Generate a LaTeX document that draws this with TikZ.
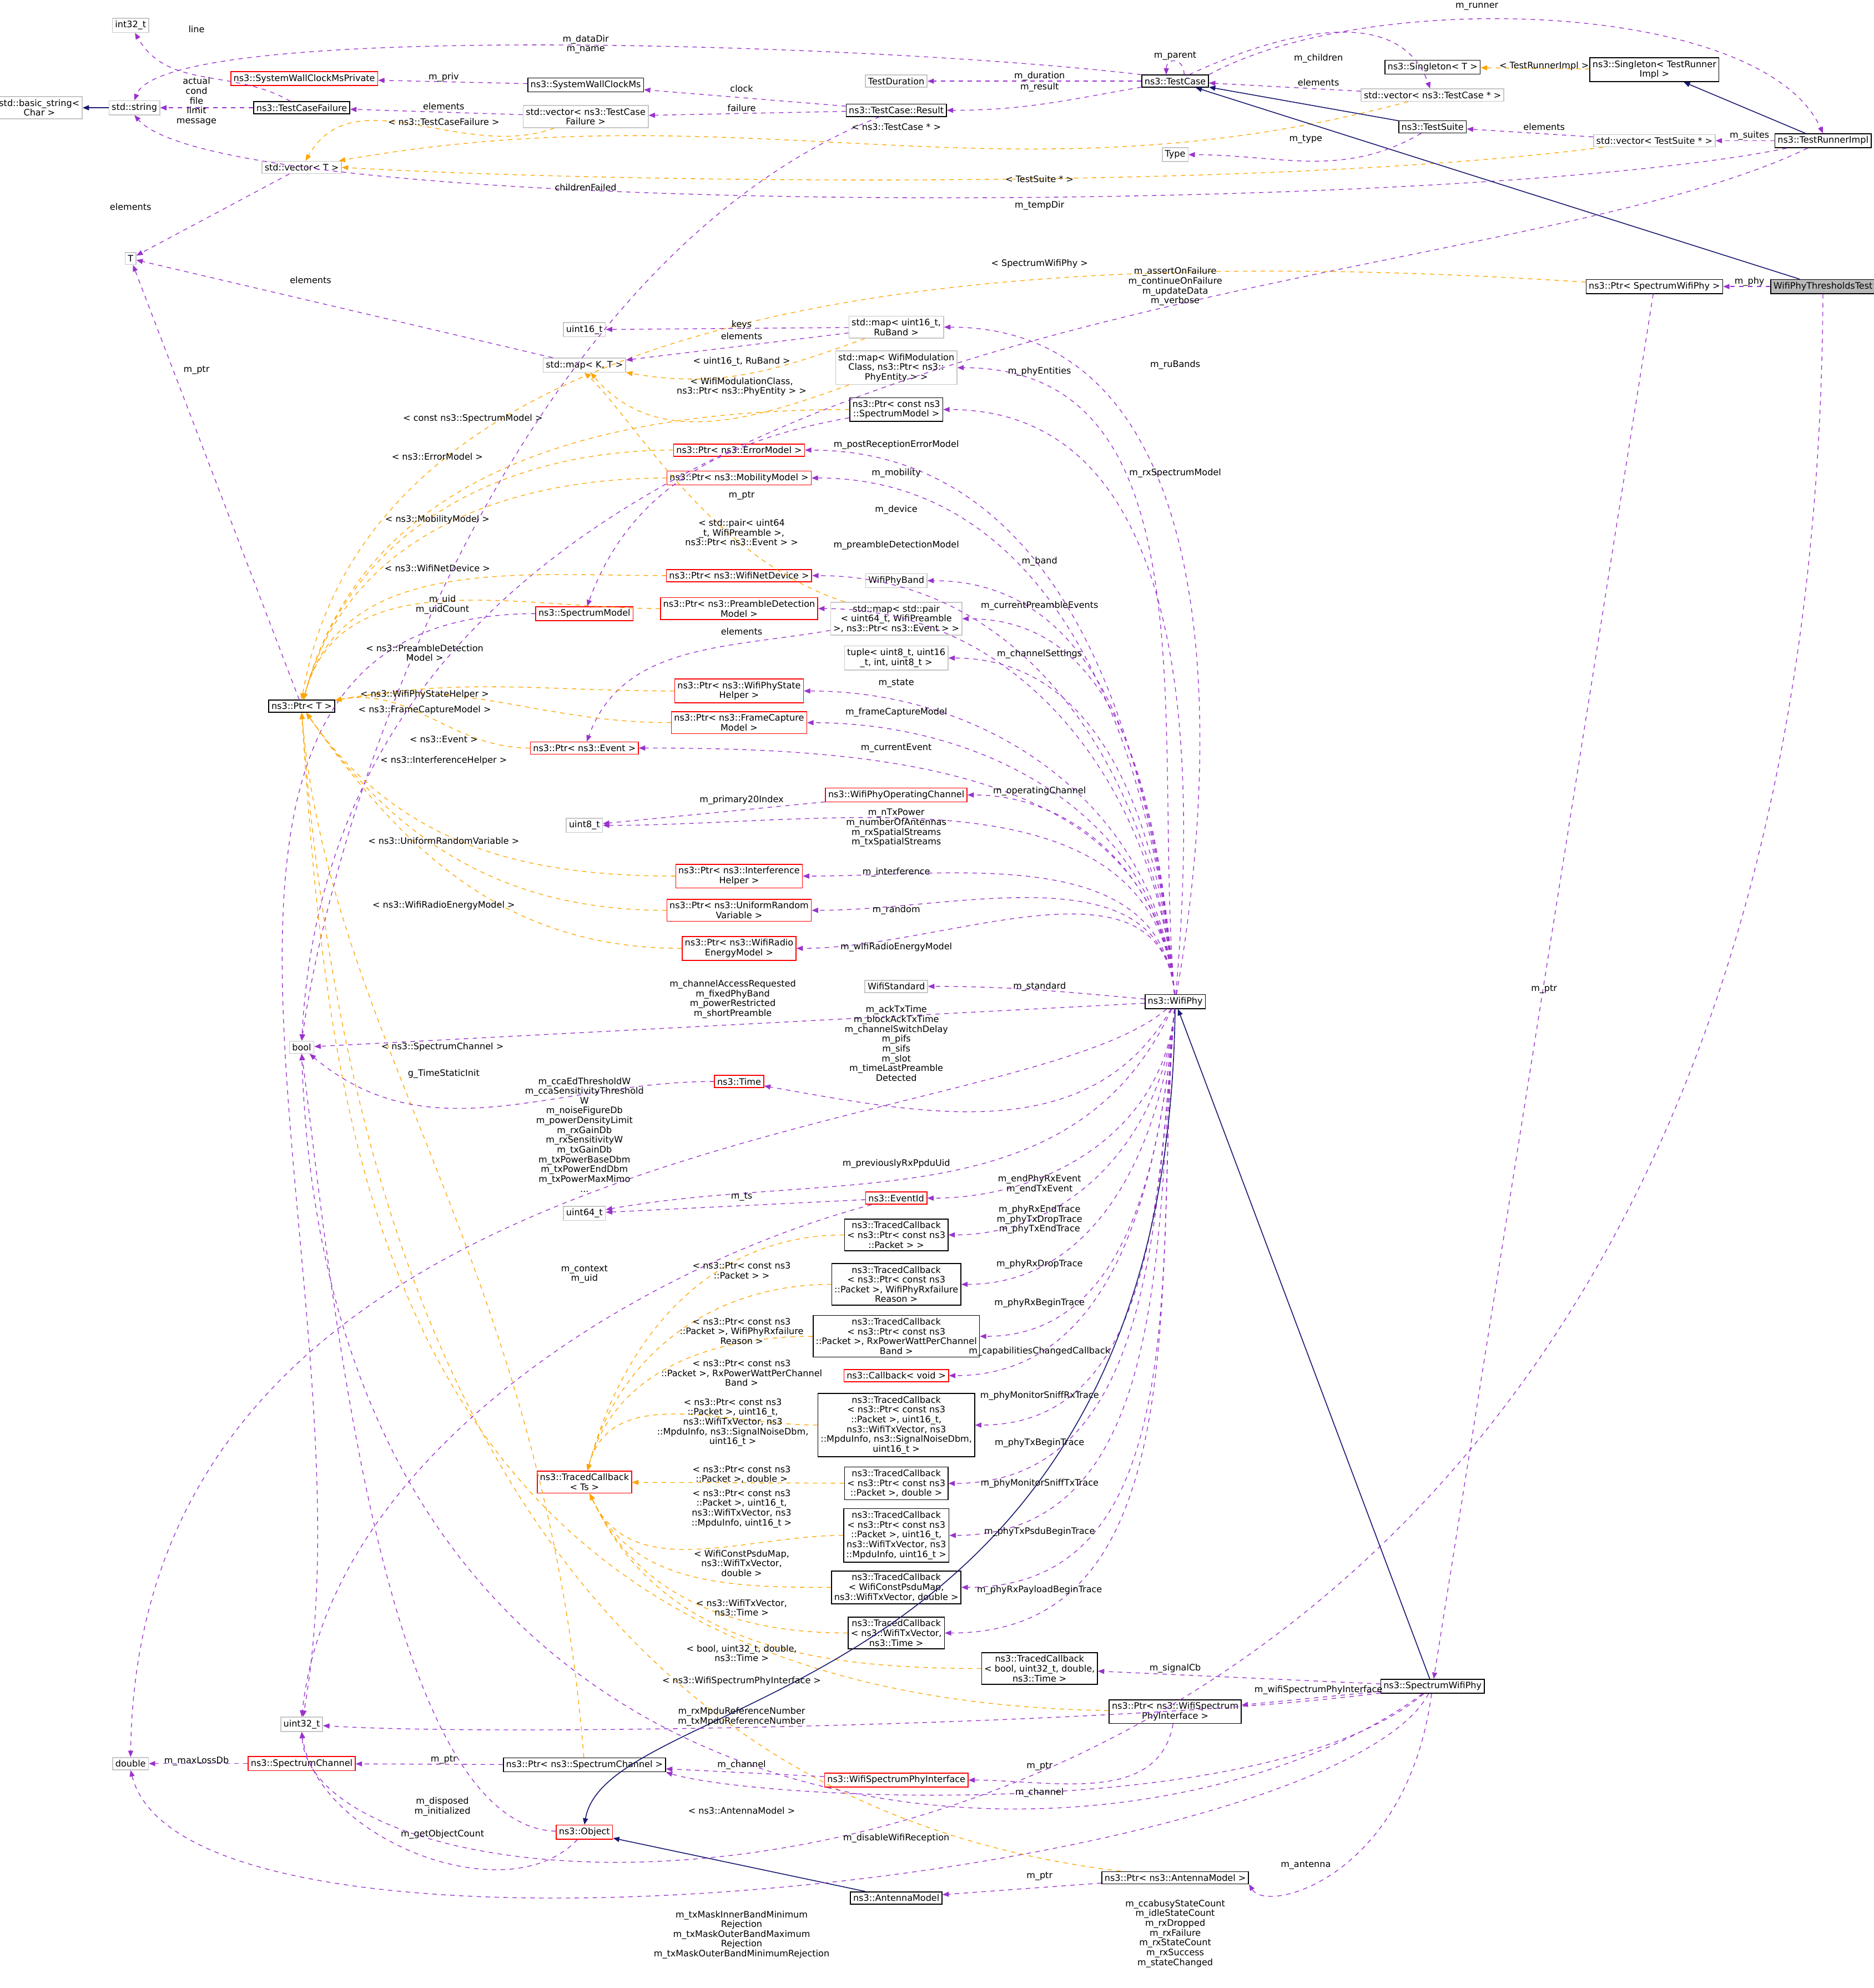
\documentclass[tikz,border=0pt]{standalone}
\usepackage{fontspec}
\setmainfont{DejaVu Sans}
\usetikzlibrary{arrows.meta,positioning}
\definecolor{refcol}{HTML}{9A32CD}
\definecolor{tplcol}{HTML}{FFA500}
\definecolor{inhcol}{HTML}{191970}
\tikzset{cls/.style={draw, rectangle, inner sep=1.8pt, align=center, fill=white, line width=0.6pt, font=\fontsize{6}{6.6}\selectfont}}
\tikzstyle{ext}=[cls, draw=gray!45]
\tikzstyle{undoc}=[cls, draw=red]
\tikzstyle{root}=[cls, fill=gray!55]
\tikzstyle{lbl}=[align=center, inner sep=0.5pt, font=\fontsize{6}{6.6}\selectfont]

\begin{document}
\begin{tikzpicture}[x=0.03cm, y=-0.03cm, >={Triangle[length=1.5mm,width=1.2mm]},
  member/.style={->, refcol, dashed, line width=0.5pt},
  tpl/.style={->, tplcol, dashed, line width=0.5pt},
  inherit/.style={->, inhcol, line width=0.6pt}]
\useasboundingbox (0,0) rectangle (1478,1568);
% classes, top
\node[ext] (int32) at (103,20) {int32\_t};
\node[ext] (bstr) at (31,85) {std::basic\_string<\\Char >};
\node[ext] (str) at (106,85) {std::string};
\node[undoc] (swcp) at (240,62) {ns3::SystemWallClockMsPrivate};
\node[cls] (tcf) at (238,85) {ns3::TestCaseFailure};
\node[cls] (swc) at (462,67) {ns3::SystemWallClockMs};
\node[ext] (vtcf) at (462,92) {std::vector< ns3::TestCase\\Failure >};
\node[ext] (vt) at (238,132) {std::vector< T >};
\node[ext] (T) at (103,204) {T};
\node[ext] (tdur) at (707,64) {TestDuration};
\node[cls] (res) at (707,87) {ns3::TestCase::Result};
\node[cls] (tc) at (927,64) {ns3::TestCase};
\node[ext] (vtc) at (1130,75) {std::vector< ns3::TestCase * >};
\node[cls] (sgt) at (1130,53) {ns3::Singleton< T >};
\node[cls] (sgtri) at (1305,55) {ns3::Singleton< TestRunner\\Impl >};
\node[cls] (ts) at (1130,100) {ns3::TestSuite};
\node[ext] (type) at (927,122) {Type};
\node[ext] (vts) at (1305,111) {std::vector< TestSuite * >};
\node[cls] (tri) at (1438,111) {ns3::TestRunnerImpl};
\node[cls] (pswp) at (1305,226) {ns3::Ptr< SpectrumWifiPhy >};
\node[root] (wptt) at (1438,226) {WifiPhyThresholdsTest};
% classes, middle
\node[ext] (u16) at (461,260) {uint16\_t};
\node[ext] (mapkt) at (461,288) {std::map< K, T >};
\node[ext] (mapru) at (707,258) {std::map< uint16\_t,\\RuBand >};
\node[ext] (mapwmc) at (707,290) {std::map< WifiModulation\\Class, ns3::Ptr< ns3::\\PhyEntity > >};
\node[cls] (pcsm) at (707,323) {ns3::Ptr< const ns3\\::SpectrumModel >};
\node[undoc] (perr) at (583,355) {ns3::Ptr< ns3::ErrorModel >};
\node[undoc] (pmob) at (583,377) {ns3::Ptr< ns3::MobilityModel >};
\node[undoc] (pdev) at (583,454) {ns3::Ptr< ns3::WifiNetDevice >};
\node[ext] (band) at (707,458) {WifiPhyBand};
\node[undoc] (sm) at (461,484) {ns3::SpectrumModel};
\node[undoc] (ppre) at (583,480) {ns3::Ptr< ns3::PreambleDetection\\Model >};
\node[ext] (mappre) at (707,488) {std::map< std::pair\\< uint64\_t, WifiPreamble\\>, ns3::Ptr< ns3::Event > >};
\node[ext] (tup) at (707,519) {tuple< uint8\_t, uint16\\\_t, int, uint8\_t >};
\node[undoc] (pstate) at (583,545) {ns3::Ptr< ns3::WifiPhyState\\Helper >};
\node[undoc] (pfc) at (583,570) {ns3::Ptr< ns3::FrameCapture\\Model >};
\node[cls] (pt) at (238,557) {ns3::Ptr< T >};
\node[undoc] (pev) at (461,590) {ns3::Ptr< ns3::Event >};
\node[undoc] (opch) at (707,627) {ns3::WifiPhyOperatingChannel};
\node[ext] (u8) at (461,651) {uint8\_t};
\node[undoc] (pint) at (583,691) {ns3::Ptr< ns3::Interference\\Helper >};
\node[undoc] (prnd) at (583,718) {ns3::Ptr< ns3::UniformRandom\\Variable >};
\node[undoc] (peng) at (583,748) {ns3::Ptr< ns3::WifiRadio\\EnergyModel >};
\node[ext] (std) at (707,778) {WifiStandard};
\node[cls] (phy) at (927,790) {ns3::WifiPhy};
\node[ext] (bool) at (238,826) {bool};
\node[undoc] (time) at (583,853) {ns3::Time};
% classes, bottom
\node[undoc] (evid) at (707,945) {ns3::EventId};
\node[ext] (u64) at (461,957) {uint64\_t};
\node[cls] (tc1) at (707,974) {ns3::TracedCallback\\< ns3::Ptr< const ns3\\::Packet > >};
\node[cls] (tc2) at (707,1013) {ns3::TracedCallback\\< ns3::Ptr< const ns3\\::Packet >, WifiPhyRxfailure\\Reason >};
\node[cls] (tc3) at (707,1054) {ns3::TracedCallback\\< ns3::Ptr< const ns3\\::Packet >, RxPowerWattPerChannel\\Band >};
\node[undoc] (cbv) at (707,1085) {ns3::Callback< void >};
\node[cls] (tc4) at (707,1124) {ns3::TracedCallback\\< ns3::Ptr< const ns3\\::Packet >, uint16\_t,\\ns3::WifiTxVector, ns3\\::MpduInfo, ns3::SignalNoiseDbm,\\uint16\_t >};
\node[cls] (tc5) at (707,1170) {ns3::TracedCallback\\< ns3::Ptr< const ns3\\::Packet >, double >};
\node[cls] (tc6) at (707,1211) {ns3::TracedCallback\\< ns3::Ptr< const ns3\\::Packet >, uint16\_t,\\ns3::WifiTxVector, ns3\\::MpduInfo, uint16\_t >};
\node[cls] (tc7) at (707,1252) {ns3::TracedCallback\\< WifiConstPsduMap,\\ns3::WifiTxVector, double >};
\node[cls] (tc8) at (707,1288) {ns3::TracedCallback\\< ns3::WifiTxVector,\\ns3::Time >};
\node[undoc] (tcts) at (461,1169) {ns3::TracedCallback\\< Ts >};
\node[cls] (tcb) at (820,1316) {ns3::TracedCallback\\< bool, uint32\_t, double,\\ns3::Time >};
\node[cls] (swp) at (1130,1330) {ns3::SpectrumWifiPhy};
\node[cls] (pwspi) at (927,1350) {ns3::Ptr< ns3::WifiSpectrum\\PhyInterface >};
\node[ext] (u32) at (238,1360) {uint32\_t};
\node[ext] (dbl) at (103,1391) {double};
\node[undoc] (sch) at (238,1391) {ns3::SpectrumChannel};
\node[cls] (psch) at (461,1392) {ns3::Ptr< ns3::SpectrumChannel >};
\node[undoc] (wspi) at (707,1404) {ns3::WifiSpectrumPhyInterface};
\node[undoc] (obj) at (461,1445) {ns3::Object};
\node[cls] (pant) at (927,1481) {ns3::Ptr< ns3::AntennaModel >};
\node[cls] (ant) at (707,1497) {ns3::AntennaModel};

% test framework
\draw[inherit] (str) -- (bstr);
\draw[member] (tcf) to[out=150,in=-60] (int32);
\draw[member] (tcf) -- (str);
\draw[member] (tc.north west) .. controls (700,35) and (130,15) .. (str.north);
\draw[member] (swc) -- (swcp);
\draw[member] (res) -- (swc);
\draw[member] (vtcf) -- (tcf);
\draw[member] (res) -- (vtcf);
\draw[tpl] (vtcf) to[out=200,in=60] (vt);
\draw[tpl] (vtc) to[out=195,in=10] (vt);
\draw[tpl] (vts) .. controls (1000,150) and (500,145) .. (vt.east);
\draw[member] (tri) .. controls (1150,170) and (180,175) .. (str.south);
\draw[member] (vt) -- (T);
\draw[member] (tc) -- (tdur);
\draw[member] (tc) to[out=190,in=0] (res);
\draw[member] ([xshift=6pt]tc.north) to[out=90,in=90,looseness=2.5] ([xshift=-6pt]tc.north);
\draw[member] (tc) to[out=25,in=110] (vtc);
\draw[member] (vtc) -- (tc);
\draw[member] (tc.north east) .. controls (1080,-10) and (1390,0) .. (tri.north);
\draw[tpl] (sgtri) -- (sgt);
\draw[inherit] (tri) -- (sgtri);
\draw[inherit] (ts) -- (tc);
\draw[inherit] (wptt) -- (tc);
\draw[member] (ts) to[out=-150,in=0] (type);
\draw[member] (vts) -- (ts);
\draw[member] (tri) -- (vts);
\draw[member] (wptt) -- (pswp);
\draw[member] (res) .. controls (420,200) and (270,600) .. (bool.north);
\draw[member] (tri) .. controls (1150,250) and (270,215) .. (bool.north);
\draw[tpl] (pswp) .. controls (900,200) and (300,195) .. (pt.north);
\draw[member] (pswp) -- (swp);
\draw[member] (wptt) .. controls (1430,1610) and (250,1560) .. (u32.south);

% containers and pointers
\draw[member] (mapkt) -- (T);
\draw[member] (pt) -- (T);
\draw[member] (mapru) -- (u16);
\draw[member] (mapru) -- (mapkt);
\draw[tpl] (mapru) to[out=-160,in=-10] (mapkt);
\draw[tpl] (mapwmc) to[out=-160,in=-50] (mapkt);
\draw[tpl] (mappre) .. controls (560,440) and (500,330) .. (mapkt.south);
\draw[member] (mappre) to[out=190,in=70] (pev);
\draw[member] (pcsm) to[out=190,in=70] (sm);
\draw[member] (sm) to[out=180,in=80] (u32);
\foreach \src in {pcsm,perr,pmob,pdev,ppre}
  \draw[tpl] (\src) to[out=180,in=75] (pt);
\foreach \src in {pstate,pfc,pev}
  \draw[tpl] (\src) to[out=180,in=10] (pt);
\foreach \src in {pint,prnd,peng}
  \draw[tpl] (\src) to[out=180,in=-55] (pt);
\draw[tpl] (psch) .. controls (430,1000) and (260,820) .. (pt.south);
\draw[tpl] (pwspi) .. controls (300,1340) and (260,900) .. (pt.south);
\draw[tpl] (pant) .. controls (420,1420) and (270,1000) .. (pt.south);
\draw[member] (opch) -- (u8);
\draw[member] (time) to[out=180,in=-40] (bool);
\draw[member] (evid) -- (u64);
\draw[member] (evid) .. controls (500,1000) and (260,1150) .. (u32.north);

% WifiPhy members
\draw[member] (phy) to[out=80,in=0] (mapru);
\draw[member] (phy) to[out=85,in=0] (pcsm);
\foreach \dst in {mapwmc,perr,pmob,pdev,ppre,band,mappre,tup,pstate,pfc,pev,opch,u8,pint,prnd,peng}
  \draw[member] (phy) to[out=95,in=0] (\dst);
\draw[member] (phy) to[out=175,in=0] (std);
\draw[member] (phy) -- (bool);
\draw[member] (phy) to[out=-120,in=-10] (time);
\draw[member] (phy) .. controls (800,900) and (110,880) .. (dbl.north);
\draw[member] (phy) to[out=-115,in=10] (u64);
\foreach \dst in {evid,tc1,tc2,tc3,cbv,tc4,tc5,tc6,tc7,tc8}
  \draw[member] (phy) to[out=-95,in=0] (\dst);
\foreach \src in {tc1,tc2,tc3,tc4}
  \draw[tpl] (\src) to[out=180,in=75] (tcts);
\draw[tpl] (tc5) -- (tcts);
\foreach \src in {tc6,tc7,tc8,tcb}
  \draw[tpl] (\src) to[out=180,in=-65] (tcts);

% SpectrumWifiPhy and below
\draw[inherit] (swp) -- (phy);
\draw[inherit] (phy) .. controls (920,1350) and (480,1330) .. (obj.north);
\draw[inherit] (ant) -- (obj);
\draw[member] (swp) -- (tcb);
\draw[member] (swp) -- (pwspi);
\draw[member] (swp) .. controls (900,1360) and (400,1370) .. (u32);
\draw[member] (swp) .. controls (1000,1440) and (600,1420) .. (psch.south east);
\draw[member] (wspi) -- (psch);
\draw[member] (pwspi) to[out=-100,in=0] (wspi);
\draw[member] (psch) -- (sch);
\draw[member] (sch) -- (dbl);
\draw[member] (obj) .. controls (300,1440) and (260,1000) .. (bool.south);
\draw[member] (obj) .. controls (400,1510) and (250,1450) .. (u32.south);
\draw[member] (swp) .. controls (900,1500) and (260,1500) .. (bool.south);
\draw[member] (swp) .. controls (1110,1480) and (1000,1510) .. (pant.south east);
\draw[member] (pant) -- (ant);
\draw[member] (swp) .. controls (1050,1480) and (150,1580) .. (dbl.south);

% member labels
\node[lbl] (lline) at (155,23) {line};
\node[lbl] (ldata) at (462,35) {m\_dataDir\\m\_name};
\node[lbl] (lact) at (155,80) {actual\\cond\\file\\limit\\message};
\node[lbl] (lpriv) at (350,61) {m\_priv};
\node[lbl] (lclock) at (585,70) {clock};
\node[lbl] (lel1) at (350,84) {elements};
\node[lbl] (lfail) at (585,85) {failure};
\node[lbl] (lttcf) at (350,96) {< ns3::TestCaseFailure >};
\node[lbl] (lttc) at (707,100) {< ns3::TestCase * >};
\node[lbl] (lchild) at (462,148) {childrenFailed};
\node[lbl] (ltmp) at (820,162) {m\_tempDir};
\node[lbl] (ltts) at (820,141) {< TestSuite * >};
\node[lbl] (lpar) at (927,44) {m\_parent};
\node[lbl] (lchn) at (1040,46) {m\_children};
\node[lbl] (lel2) at (1040,65) {elements};
\node[lbl] (ldur) at (820,60) {m\_duration};
\node[lbl] (lres) at (820,69) {m\_result};
\node[lbl] (lrun) at (1165,5) {m\_runner};
\node[lbl] (lttri) at (1218,52) {< TestRunnerImpl >};
\node[lbl] (ltype) at (1030,110) {m\_type};
\node[lbl] (lel3) at (1218,100) {elements};
\node[lbl] (lsuit) at (1380,107) {m\_suites};
\node[lbl] (lphy) at (1380,222) {m\_phy};
\node[lbl] (ltswp) at (820,208) {< SpectrumWifiPhy >};
\node[lbl] (lassert) at (927,226) {m\_assertOnFailure\\m\_continueOnFailure\\m\_updateData\\m\_verbose};
\node[lbl] (lel4) at (245,221) {elements};
\node[lbl] (lel5) at (103,163) {elements};
\node[lbl] (lptr1) at (155,292) {m\_ptr};
\node[lbl] (lkeys) at (585,256) {keys};
\node[lbl] (lel6) at (585,265) {elements};
\node[lbl] (ltru) at (585,285) {< uint16\_t, RuBand >};
\node[lbl] (ltwmc) at (585,305) {< WifiModulationClass,\\ns3::Ptr< ns3::PhyEntity > >};
\node[lbl] (ltcsm) at (373,330) {< const ns3::SpectrumModel >};
\node[lbl] (lterr) at (345,360) {< ns3::ErrorModel >};
\node[lbl] (ltmob) at (345,410) {< ns3::MobilityModel >};
\node[lbl] (lptr2) at (585,391) {m\_ptr};
\node[lbl] (ltpair) at (585,420) {< std::pair< uint64\\\_t, WifiPreamble >,\\ns3::Ptr< ns3::Event > >};
\node[lbl] (ltdev) at (345,448) {< ns3::WifiNetDevice >};
\node[lbl] (luid) at (349,477) {m\_uid\\m\_uidCount};
\node[lbl] (ltpre) at (335,515) {< ns3::PreambleDetection\\Model >};
\node[lbl] (lel7) at (585,498) {elements};
\node[lbl] (ltst) at (335,548) {< ns3::WifiPhyStateHelper >};
\node[lbl] (ltfc) at (335,560) {< ns3::FrameCaptureModel >};
\node[lbl] (ltev) at (350,583) {< ns3::Event >};
\node[lbl] (ltint) at (350,600) {< ns3::InterferenceHelper >};
\node[lbl] (lprim) at (585,631) {m\_primary20Index};
\node[lbl] (ltrnd) at (350,663) {< ns3::UniformRandomVariable >};
\node[lbl] (lteng) at (350,714) {< ns3::WifiRadioEnergyModel >};
\node[lbl] (lbool) at (578,788) {m\_channelAccessRequested\\m\_fixedPhyBand\\m\_powerRestricted\\m\_shortPreamble};
\node[lbl] (ltsch) at (349,826) {< ns3::SpectrumChannel >};
\node[lbl] (lgts) at (350,847) {g\_TimeStaticInit};
\node[lbl] (ldbl) at (461,895) {m\_ccaEdThresholdW\\m\_ccaSensitivityThreshold\\W\\m\_noiseFigureDb\\m\_powerDensityLimit\\m\_rxGainDb\\m\_rxSensitivityW\\m\_txGainDb\\m\_txPowerBaseDbm\\m\_txPowerEndDbm\\m\_txPowerMaxMimo\\...};
\node[lbl] (lctx) at (461,1005) {m\_context\\m\_uid};
\node[lbl] (lts) at (585,944) {m\_ts};
\node[lbl] (lprev) at (707,918) {m\_previouslyRxPpduUid};
\node[lbl] (lru) at (927,288) {m\_ruBands};
\node[lbl] (lent) at (820,293) {m\_phyEntities};
\node[lbl] (lrxsm) at (927,373) {m\_rxSpectrumModel};
\node[lbl] (lperr) at (707,351) {m\_postReceptionErrorModel};
\node[lbl] (lmob) at (707,373) {m\_mobility};
\node[lbl] (ldev) at (707,402) {m\_device};
\node[lbl] (lpre) at (707,430) {m\_preambleDetectionModel};
\node[lbl] (lband) at (820,443) {m\_band};
\node[lbl] (lcpe) at (820,478) {m\_currentPreambleEvents};
\node[lbl] (lchs) at (820,516) {m\_channelSettings};
\node[lbl] (lstate) at (707,539) {m\_state};
\node[lbl] (lfc) at (707,562) {m\_frameCaptureModel};
\node[lbl] (lcev) at (707,590) {m\_currentEvent};
\node[lbl] (lopch) at (820,624) {m\_operatingChannel};
\node[lbl] (lntx) at (707,653) {m\_nTxPower\\m\_numberOfAntennas\\m\_rxSpatialStreams\\m\_txSpatialStreams};
\node[lbl] (lint) at (707,688) {m\_interference};
\node[lbl] (lrnd) at (707,718) {m\_random};
\node[lbl] (leng) at (707,747) {m\_wifiRadioEnergyModel};
\node[lbl] (lstd) at (820,778) {m\_standard};
\node[lbl] (ltime) at (707,823) {m\_ackTxTime\\m\_blockAckTxTime\\m\_channelSwitchDelay\\m\_pifs\\m\_sifs\\m\_slot\\m\_timeLastPreamble\\Detected};
\node[lbl] (levid) at (820,934) {m\_endPhyRxEvent\\m\_endTxEvent};
\node[lbl] (lrxend) at (820,962) {m\_phyRxEndTrace\\m\_phyTxDropTrace\\m\_phyTxEndTrace};
\node[lbl] (lrxdrop) at (820,997) {m\_phyRxDropTrace};
\node[lbl] (lrxbeg) at (820,1028) {m\_phyRxBeginTrace};
\node[lbl] (lcap) at (820,1066) {m\_capabilitiesChangedCallback};
\node[lbl] (lsniffrx) at (820,1101) {m\_phyMonitorSniffRxTrace};
\node[lbl] (ltxbeg) at (820,1138) {m\_phyTxBeginTrace};
\node[lbl] (lsnifftx) at (820,1170) {m\_phyMonitorSniffTxTrace};
\node[lbl] (lpsdu) at (820,1208) {m\_phyTxPsduBeginTrace};
\node[lbl] (lpay) at (820,1254) {m\_phyRxPayloadBeginTrace};
\node[lbl] (lt1) at (585,1002) {< ns3::Ptr< const ns3\\::Packet > >};
\node[lbl] (lt2) at (585,1050) {< ns3::Ptr< const ns3\\::Packet >, WifiPhyRxfailure\\Reason >};
\node[lbl] (lt3) at (585,1083) {< ns3::Ptr< const ns3\\::Packet >, RxPowerWattPerChannel\\Band >};
\node[lbl] (lt4) at (578,1122) {< ns3::Ptr< const ns3\\::Packet >, uint16\_t,\\ns3::WifiTxVector, ns3\\::MpduInfo, ns3::SignalNoiseDbm,\\uint16\_t >};
\node[lbl] (lt5) at (585,1163) {< ns3::Ptr< const ns3\\::Packet >, double >};
\node[lbl] (lt6) at (585,1190) {< ns3::Ptr< const ns3\\::Packet >, uint16\_t,\\ns3::WifiTxVector, ns3\\::MpduInfo, uint16\_t >};
\node[lbl] (lt7) at (585,1233) {< WifiConstPsduMap,\\ns3::WifiTxVector,\\double >};
\node[lbl] (lt8) at (585,1268) {< ns3::WifiTxVector,\\ns3::Time >};
\node[lbl] (ltb) at (585,1304) {< bool, uint32\_t, double,\\ns3::Time >};
\node[lbl] (ltwspi) at (585,1326) {< ns3::WifiSpectrumPhyInterface >};
\node[lbl] (lsig) at (927,1316) {m\_signalCb};
\node[lbl] (lwspi) at (1040,1333) {m\_wifiSpectrumPhyInterface};
\node[lbl] (lmpdu) at (585,1354) {m\_rxMpduReferenceNumber\\m\_txMpduReferenceNumber};
\node[lbl] (lptr3) at (1218,780) {m\_ptr};
\node[lbl] (lptr4) at (820,1393) {m\_ptr};
\node[lbl] (lloss) at (155,1389) {m\_maxLossDb};
\node[lbl] (lptr5) at (350,1388) {m\_ptr};
\node[lbl] (lch1) at (585,1392) {m\_channel};
\node[lbl] (lch2) at (820,1414) {m\_channel};
\node[lbl] (ltant) at (585,1428) {< ns3::AntennaModel >};
\node[lbl] (ldisp) at (349,1425) {m\_disposed\\m\_initialized};
\node[lbl] (lgoc) at (349,1447) {m\_getObjectCount};
\node[lbl] (ldis) at (707,1450) {m\_disableWifiReception};
\node[lbl] (lant) at (1030,1471) {m\_antenna};
\node[lbl] (lptr6) at (820,1480) {m\_ptr};
\node[lbl] (lmask) at (585,1526) {m\_txMaskInnerBandMinimum\\Rejection\\m\_txMaskOuterBandMaximum\\Rejection\\m\_txMaskOuterBandMinimumRejection};
\node[lbl] (lcnt) at (927,1525) {m\_ccabusyStateCount\\m\_idleStateCount\\m\_rxDropped\\m\_rxFailure\\m\_rxStateCount\\m\_rxSuccess\\m\_stateChanged};
\end{tikzpicture}
\end{document}
